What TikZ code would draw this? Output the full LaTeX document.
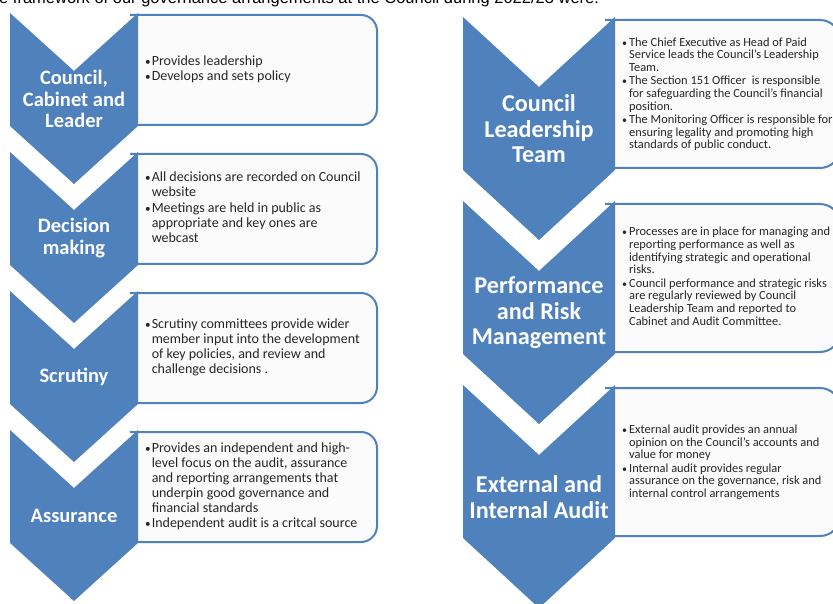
\documentclass[tikz,border=0pt]{standalone}
\usepackage{fontspec}
\setmainfont{Carlito}
\newfontfamily\hdrfont{Liberation Sans}
\definecolor{chev}{RGB}{79,129,189}
\definecolor{boxline}{RGB}{79,129,189}
\definecolor{boxfill}{RGB}{251,251,252}
\definecolor{txt}{RGB}{38,38,38}
\newcommand{\bul}{\scalebox{0.8}{\textbullet}}
\tikzset{
  chevshape/.style={fill=chev, draw=none},
  infobox/.style={draw=boxline, line width=2pt, fill=boxfill},
  leftlabel/.style={text=white, align=center, inner sep=0pt, font=\bfseries\fontsize{20.5}{21.5}\selectfont},
  rightlabel/.style={text=white, align=center, inner sep=0pt, font=\bfseries\fontsize{24.2}{25.5}\selectfont},
  lefttext/.style={anchor=west, inner sep=0pt, text=txt, font=\fontsize{14}{15}\selectfont},
  righttext/.style={anchor=west, inner sep=0pt, text=txt, font=\fontsize{12.4}{12.6}\selectfont},
}
\begin{document}
\begin{tikzpicture}[x=1pt,y=-1pt]
\useasboundingbox (0,0) rectangle (833,604);
\clip (0,0) rectangle (833,604);
\fill[white] (0,0) rectangle (833,604);

\node[anchor=base west, inner sep=0pt, font=\hdrfont\fontsize{16.5}{19}\selectfont, text=black] (hdr) at (-1,4) {e framework of our governance arrangements at the Council during 2022/23 were:};

% left column
\foreach \T in {13,152,291,430}{
  \draw[infobox, rounded corners=16pt] (130,{\T+2}) -- (377,{\T+2}) -- (377,{\T+112}) -- (130,{\T+112});
  \fill[chevshape] (10,\T) -- (74,{\T+58}) -- (138,\T) -- (138,{\T+113}) -- (74,{\T+171}) -- (10,{\T+113}) -- cycle;
}
% right column
\foreach \T in {17,201,385}{
  \draw[infobox, rounded corners=20pt] (605,{\T+3}) -- (840,{\T+3}) -- (840,{\T+151}) -- (605,{\T+151});
  \fill[chevshape] (463,\T) -- (539,{\T+70}) -- (615,\T) -- (615,{\T+153}) -- (539,{\T+223}) -- (463,{\T+153}) -- cycle;
}

% left labels
\node[leftlabel] (l1) at (74,99) {Council,\\Cabinet and\\Leader};
\node[leftlabel] (l2) at (74,238) {Decision\\making};
\node[leftlabel] (l3) at (74,377) {Scrutiny};
\node[leftlabel] (l4) at (74,516) {Assurance};

% right labels
\node[rightlabel] (r1) at (539,129) {Council\\Leadership\\Team};
\node[rightlabel] (r2) at (539,313) {Performance\\and Risk\\Management};
\node[rightlabel] (r3) at (539,497) {External and\\Internal Audit};

% left texts
\node[lefttext] (t1) at (145,70) {\begin{tabular}{@{}l@{\hspace{1pt}}l@{}}
\bul & Provides leadership\\
\bul & Develops and sets policy
\end{tabular}};
\node[lefttext] (t2) at (145,209) {\begin{tabular}{@{}l@{\hspace{1pt}}l@{}}
\bul & All decisions are recorded on Council\\
 & website\\[1.5pt]
\bul & Meetings are held in public as\\
 & appropriate and key ones are\\
 & webcast
\end{tabular}};
\node[lefttext] (t3) at (145,348) {\begin{tabular}{@{}l@{\hspace{1pt}}l@{}}
\bul & Scrutiny committees provide wider\\
 & member input into the development\\
 & of key policies, and review and\\
 & challenge decisions .
\end{tabular}};
\node[lefttext] (t4) at (145,487) {\begin{tabular}{@{}l@{\hspace{1pt}}l@{}}
\bul & Provides an independent and high-\\
 & level focus on the audit, assurance\\
 & and reporting arrangements that\\
 & underpin good governance and\\
 & financial standards\\
\bul & Independent audit is a critcal source
\end{tabular}};

% right texts
\node[righttext] (u1) at (622,95) {\begin{tabular}{@{}l@{\hspace{2pt}}l@{}}
\bul & The Chief Executive as Head of Paid\\
 & Service leads the Council’s Leadership\\
 & Team.\\[1pt]
\bul & The Section 151 Officer\ \ is responsible\\
 & for safeguarding the Council’s financial\\
 & position.\\[1pt]
\bul & The Monitoring Officer is responsible for\\
 & ensuring legality and promoting high\\
 & standards of public conduct.
\end{tabular}};
\node[righttext] (u2) at (622,278) {\begin{tabular}{@{}l@{\hspace{2pt}}l@{}}
\bul & Processes are in place for managing and\\
 & reporting performance as well as\\
 & identifying strategic and operational\\
 & risks.\\[1pt]
\bul & Council performance and strategic risks\\
 & are regularly reviewed by Council\\
 & Leadership Team and reported to\\
 & Cabinet and Audit Committee.
\end{tabular}};
\node[righttext] (u3) at (622,463) {\begin{tabular}{@{}l@{\hspace{2pt}}l@{}}
\bul & External audit provides an annual\\
 & opinion on the Council’s accounts and\\
 & value for money\\[1pt]
\bul & Internal audit provides regular\\
 & assurance on the governance, risk and\\
 & internal control arrangements
\end{tabular}};
\end{tikzpicture}
\end{document}
